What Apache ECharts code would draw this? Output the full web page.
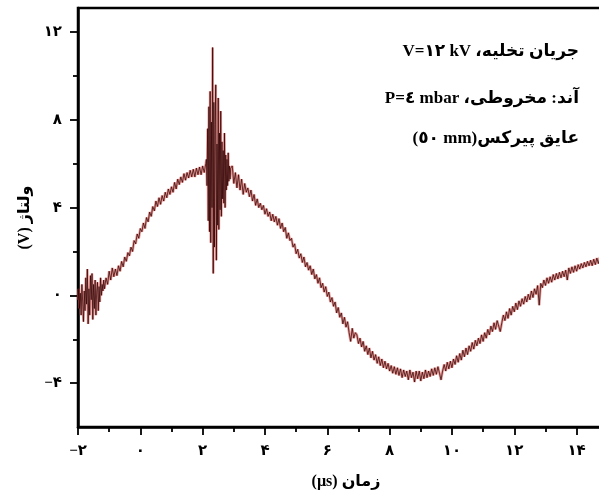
<!DOCTYPE html>
<html lang="fa">
<head>
<meta charset="utf-8">
<script src="https://cdn.jsdelivr.net/npm/echarts@6/dist/echarts.min.js"></script>
<style>
  html, body { margin: 0; padding: 0; background: #fff; overflow: hidden; }
  #chart { width: 640px; height: 499px; }
</style>
</head>
<body>
<div id="chart"></div>
<script>
// voltage trace read off the scope plot, in sampled pieces
// noisy start of the trace (fine sampling)
const blobStart = -2.0;
const blobStep = 0.025;
const blobVolts = [
  -0.2, 0.3, -0.6, 0.1, -0.9, 0.5, -0.3, -1.2, 0.2, -0.7,
  0.8, -0.4, 1.2, -1.3, 0.3, -0.9, 0.9, -0.2, 1.0, -1.1,
  0.5, -0.6, 0.7, -0.9, 0.2, 0.6, -0.7, 0.4, -0.3, 0.8,
  0.0, 0.5, 0.2, 0.7, 0.3
];

// rise up to the burst
const preStart = -1.1;
const preStep = 0.05;
const preVolts = [
  0.8, 0.5, 1.1, 0.7, 1.25, 0.85, 1.2, 0.9, 1.35, 1.1, 1.55, 1.3, 1.75, 1.55, 1.95, 1.8, 2.2, 2.0, 2.5, 2.35,
  2.8, 2.6, 3.05, 2.9, 3.3, 3.05, 3.55, 3.35, 3.8, 3.6, 4.05, 3.85, 4.3, 4.05, 4.45, 4.15, 4.55, 4.3, 4.7, 4.45,
  4.85, 4.6, 4.95, 4.7, 5.15, 4.85, 5.3, 5.05, 5.4, 5.15, 5.55, 5.25, 5.6, 5.35, 5.7, 5.4, 5.75, 5.4, 5.8, 5.5,
  5.85, 5.5, 5.9, 5.6, 6.0
];

// the discharge burst
const burstStart = 2.12;
const burstStep = 0.02;
const burstVolts = [
  6.2, 5.0, 7.6, 3.4, 8.6, 2.9, 9.3, 2.4, 7.9, 4.0,
  11.3, 1.0, 8.8, 2.2, 7.5, 9.6, 1.6, 6.9, 3.2, 9.0,
  3.0, 7.4, 3.9, 8.4, 3.6, 7.0, 4.4, 6.6, 4.2, 7.4,
  4.0, 6.4, 4.8, 6.2, 5.0, 6.5, 5.2, 5.9, 5.3, 5.8
];

// fall, minimum and recovery
const postStart = 2.95;
const postStep = 0.05;
const postVolts = [
  5.9, 5.1, 5.6, 4.9, 5.5, 4.8, 5.3, 4.6, 5.1, 4.7, 4.9, 4.5, 4.8, 4.3, 4.6, 4.1, 4.4, 4.0, 4.2, 3.9,
  4.1, 3.7, 3.95, 3.6, 3.8, 3.4, 3.7, 3.35, 3.6, 3.2, 3.5, 3.05, 3.3, 2.9, 3.1, 2.6, 2.85, 2.5, 2.6, 2.2,
  2.35, 1.9, 2.1, 1.7, 1.9, 1.5, 1.75, 1.3, 1.5, 1.15, 1.35, 0.95, 1.2, 0.75, 0.95, 0.55, 0.8, 0.35, 0.55, 0.15,
  0.4, -0.05, 0.15, -0.3, -0.1, -0.5, -0.3, -0.8, -0.55, -1.0, -0.8, -1.3, -1.0, -1.45, -1.2, -1.7, -2.1, -1.5, -1.95, -1.7,
  -1.8, -2.2, -1.95, -2.35, -2.1, -2.55, -2.3, -2.7, -2.4, -2.85, -2.55, -2.95, -2.7, -3.1, -2.8, -3.2, -2.9, -3.3, -3.0, -3.35,
  -3.1, -3.45, -3.2, -3.55, -3.25, -3.6, -3.3, -3.65, -3.35, -3.75, -3.4, -3.7, -3.45, -3.85, -3.4, -3.75, -3.5, -3.95, -3.45, -3.8,
  -3.45, -3.9, -3.5, -3.8, -3.4, -3.75, -3.45, -3.7, -3.35, -3.65, -3.3, -3.6, -3.25, -3.55, -3.85, -3.45, -3.15, -3.45, -3.05, -3.35,
  -3.0, -3.3, -2.9, -3.15, -2.75, -3.05, -2.65, -2.95, -2.5, -2.8, -2.4, -2.7, -2.3, -2.55, -2.15, -2.45, -2.05, -2.3, -1.95, -2.2,
  -1.8, -2.1, -1.7, -1.95, -1.55, -1.8, -1.4, -1.65, -1.25, -1.55, -1.15, -1.4, -1.65, -1.25, -0.9, -1.15, -0.75, -1.05, -0.6, -0.9,
  -0.5, -0.75, -0.35, -0.65, -0.25, -0.5, -0.15, -0.4, -0.05, -0.3, 0.05, -0.2, 0.2, -0.1, 0.3, 0.05, 0.45, -0.45, 0.55, 0.35,
  0.7, 0.45, 0.8, 0.55, 0.85, 0.6, 0.95, 0.7, 1.0, 0.75, 1.05, 0.8, 1.1, 0.85, 1.15, 0.7, 1.25, 1.0, 1.3, 1.05,
  1.35, 1.1, 1.4, 1.2, 1.45, 1.25, 1.5, 1.3, 1.55, 1.35, 1.6, 1.35, 1.65, 1.4, 1.7, 1.45, 1.75, 1.5, 1.75, 1.55,
  1.8, 1.55, 1.85, 1.6, 1.85, 1.7
];

const xLabelValues = [-2, 0, 2, 4, 6, 8, 10, 12, 14];
const yLabelValues = [-4, 0, 4, 8, 12];
const yMinorValues = [-2, 2, 6, 10];

const xName = '\u202Bزمان (µs)\u202C';
const yName = '\u202Bولتاژ (V)\u202C';
const noteLines = [
  '\u202Bجریان تخلیه، V=۱۲ kV\u202C',
  '\u202Bآند: مخروطی، \u202AP=٤ mbar\u202C\u202C',
  '\u202Bعایق پیرکس\u202A(٥٠ mm)\u202C\u202C'
];

const FONT = '"Liberation Serif", "DejaVu Sans", serif';

function faDigits(n) {
  const txt = String(Math.abs(n)).replace(/\d/g, (d) => '۰۱۲۳۴۵۶۷۸۹'[d]);
  return (n < 0 ? '−' : '') + txt;
}

function toPoints(start, step, values) {
  return values.map((v, i) => [Number((start + i * step).toFixed(3)), v]);
}

const trace = [].concat(
  toPoints(blobStart, blobStep, blobVolts),
  toPoints(preStart, preStep, preVolts),
  toPoints(burstStart, burstStep, burstVolts),
  toPoints(postStart, postStep, postVolts)
);

const chart = echarts.init(document.getElementById('chart'), null, { renderer: 'canvas' });

const labelStyle = { color: '#000', fontSize: 15, fontWeight: 'bold', fontFamily: FONT };
const tickLine = { color: '#000', width: 1.8 };

chart.setOption({
  animation: false,
  backgroundColor: '#fff',
  grid: {
    left: 78, right: 26, top: 8, bottom: 72,
    show: true, borderColor: '#000', borderWidth: 2.5,
    outerBoundsMode: 'none'
  },
  xAxis: {
    type: 'value',
    min: -2,
    max: 15.2,
    interval: 2,
    name: xName,
    nameLocation: 'middle',
    nameGap: 47,
    nameTextStyle: { color: '#000', fontSize: 16, fontWeight: 'bold', fontFamily: FONT },
    axisLine: { onZero: false, lineStyle: { color: '#000', width: 2.5 } },
    axisTick: { length: 8, lineStyle: tickLine },
    minorTick: { show: true, splitNumber: 2, length: 5, lineStyle: tickLine },
    splitLine: { show: false },
    axisLabel: Object.assign({}, labelStyle, {
      margin: 17,
      formatter: (v) => (xLabelValues.indexOf(Math.round(v * 100) / 100) >= 0 ? faDigits(Math.round(v)) : '')
    })
  },
  yAxis: [
    {
      type: 'value',
      min: -6,
      max: 13.1,
      name: yName,
      nameLocation: 'middle',
      nameGap: 40,
      nameTextStyle: { color: '#000', fontSize: 16, fontWeight: 'bold', fontFamily: FONT },
      axisLine: { show: true, onZero: false, lineStyle: { color: '#000', width: 2.5 } },
      axisTick: { show: true, length: 8, customValues: yLabelValues, lineStyle: tickLine },
      splitLine: { show: false },
      axisLabel: Object.assign({}, labelStyle, {
        margin: 16,
        customValues: yLabelValues,
        formatter: (v) => faDigits(v)
      })
    },
    {
      type: 'value',
      min: -6,
      max: 13.1,
      position: 'left',
      axisLine: { show: false, onZero: false },
      axisTick: { show: true, length: 5, customValues: yMinorValues, lineStyle: tickLine },
      axisLabel: { show: false },
      splitLine: { show: false }
    }
  ],
  graphic: noteLines.map((t, i) => ({
    type: 'text',
    x: 579,
    y: [52, 99, 139][i],
    style: {
      text: t,
      font: 'bold 17px ' + FONT,
      fill: '#000',
      align: 'right',
      verticalAlign: 'middle'
    }
  })),
  series: [
    {
      type: 'line',
      data: trace,
      symbol: 'none',
      silent: true,
      lineStyle: { color: '#d9534f', width: 2.6, opacity: 0.6 }
    },
    {
      type: 'line',
      data: trace,
      symbol: 'none',
      silent: true,
      lineStyle: { color: '#2b0000', width: 0.8, opacity: 0.9 }
    }
  ]
});
</script>
</body>
</html>
